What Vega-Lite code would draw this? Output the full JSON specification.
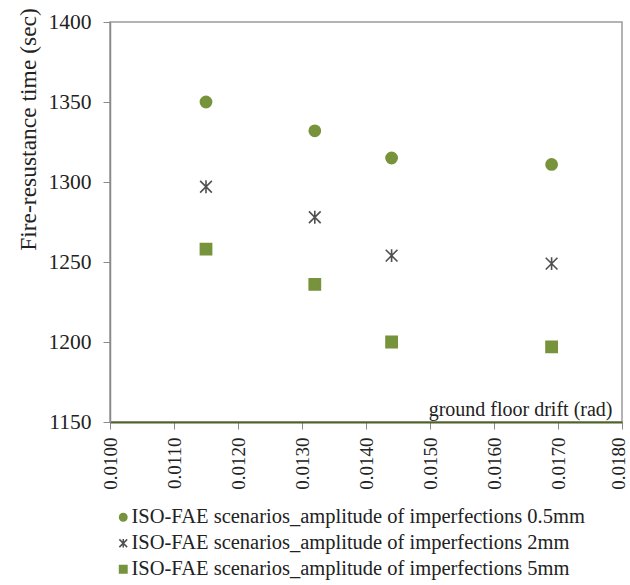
{
  "$schema": "https://vega.github.io/schema/vega-lite/v6.json",
  "autosize": "none",
  "width": 512,
  "height": 400,
  "padding": {"left": 110, "top": 22, "right": 8, "bottom": 163},
  "background": "white",
  "config": {
    "font": "Liberation Serif",
    "style": {"guide-label": {"font": "Liberation Serif"}, "guide-title": {"font": "Liberation Serif"}},
    "view": {"stroke": "#9a9a9a", "strokeWidth": 1.5},
    "axis": {"grid": false, "labelColor": "#222", "titleColor": "#222", "titleFontWeight": "normal", "tickColor": "#8a8a8a", "domainColor": "#8a8a8a"}
  },
  "data": {
    "values": [
      {"drift": 0.0115, "time": 1350, "series": "ISO-FAE scenarios_amplitude of imperfections 0.5mm"},
      {"drift": 0.0132, "time": 1332, "series": "ISO-FAE scenarios_amplitude of imperfections 0.5mm"},
      {"drift": 0.0144, "time": 1315, "series": "ISO-FAE scenarios_amplitude of imperfections 0.5mm"},
      {"drift": 0.0169, "time": 1311, "series": "ISO-FAE scenarios_amplitude of imperfections 0.5mm"},
      {"drift": 0.0115, "time": 1297, "series": "ISO-FAE scenarios_amplitude of imperfections 2mm"},
      {"drift": 0.0132, "time": 1278, "series": "ISO-FAE scenarios_amplitude of imperfections 2mm"},
      {"drift": 0.0144, "time": 1254, "series": "ISO-FAE scenarios_amplitude of imperfections 2mm"},
      {"drift": 0.0169, "time": 1249, "series": "ISO-FAE scenarios_amplitude of imperfections 2mm"},
      {"drift": 0.0115, "time": 1258, "series": "ISO-FAE scenarios_amplitude of imperfections 5mm"},
      {"drift": 0.0132, "time": 1236, "series": "ISO-FAE scenarios_amplitude of imperfections 5mm"},
      {"drift": 0.0144, "time": 1200, "series": "ISO-FAE scenarios_amplitude of imperfections 5mm"},
      {"drift": 0.0169, "time": 1197, "series": "ISO-FAE scenarios_amplitude of imperfections 5mm"}
    ]
  },
  "mark": {"type": "point", "filled": true, "size": 125, "strokeWidth": 1.6, "opacity": 1},
  "encoding": {
    "x": {
      "field": "drift", "type": "quantitative",
      "scale": {"domain": [0.01, 0.018], "nice": false, "zero": false},
      "axis": {
        "values": [0.01, 0.011, 0.012, 0.013, 0.014, 0.015, 0.016, 0.017, 0.018],
        "format": ".4f", "labelAngle": -90, "labelFont": "Liberation Serif", "labelFontSize": 19, "labelPadding": 8, "tickSize": 7,
        "labelOffset": {"condition": {"test": "datum.value >= 0.0179", "value": -4}, "value": 0},
        "domainColor": "#4F6228", "domainWidth": 2,
        "title": "ground floor drift (rad)", "titleFont": "Liberation Serif", "titleFontSize": 20,
        "titleX": 502, "titleY": -7, "titleAlign": "right", "titleBaseline": "alphabetic", "titleAnchor": null
      }
    },
    "y": {
      "field": "time", "type": "quantitative",
      "scale": {"domain": [1150, 1400], "nice": false, "zero": false},
      "axis": {
        "values": [1150, 1200, 1250, 1300, 1350, 1400], "format": "d",
        "labelFont": "Liberation Serif", "labelFontSize": 21.5, "labelPadding": 12, "tickSize": 7, "domainWidth": 1.5,
        "title": "Fire-resustance time (sec)", "titleFont": "Liberation Serif", "titleFontSize": 23.5,
        "titleX": -82, "titleY": 107, "titleAngle": -90, "titleAlign": "center", "titleBaseline": "middle"
      }
    },
    "color": {
      "field": "series", "type": "nominal",
      "scale": {"range": ["#77933C", "#505050", "#77933C"]},
      "legend": {
        "title": null, "orient": "none", "legendX": 3, "legendY": 485,
        "labelFont": "Liberation Serif", "labelFontSize": 20.5, "labelColor": "#222",
        "symbolSize": 55, "labelOffset": -2, "rowPadding": 5, "symbolStrokeWidth": 1.5, "labelLimit": 600
      }
    },
    "stroke": {
      "field": "series", "type": "nominal",
      "scale": {"range": ["#77933C", "#505050", "#77933C"]}
    },
    "shape": {
      "field": "series", "type": "nominal",
      "scale": {"range": ["circle", "M-1.05,-1.05L1.05,1.05M-1.05,1.05L1.05,-1.05M0,-1.15L0,1.15", "square"]}
    }
  }
}
